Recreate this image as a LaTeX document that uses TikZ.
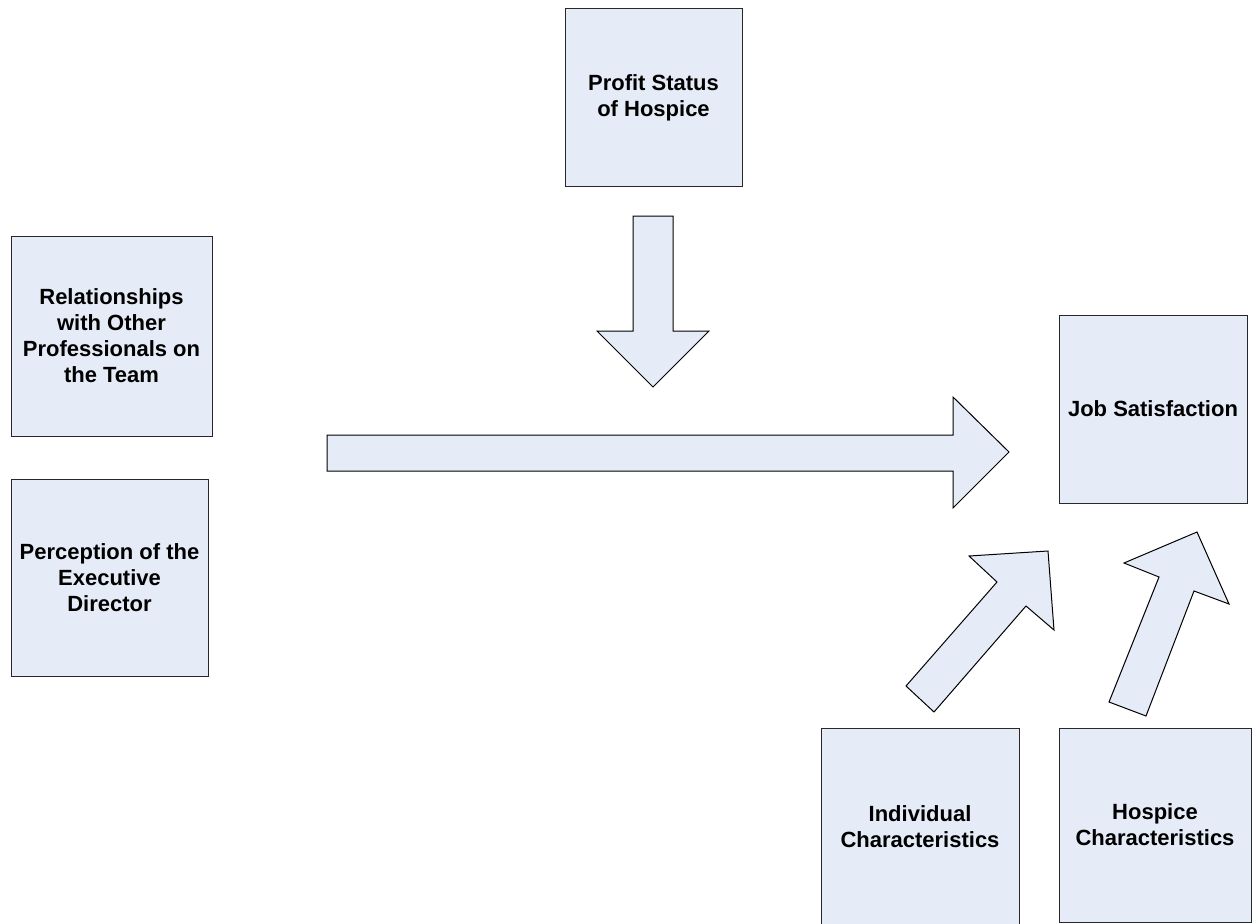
\documentclass[tikz,border=0pt]{standalone}
\usepackage{fontspec}
\setmainfont{Liberation Sans}
\definecolor{boxfill}{RGB}{230,236,247}
\definecolor{boxline}{RGB}{40,40,40}
\begin{document}
\begin{tikzpicture}[x=0.75pt,y=-0.75pt,
  box/.style={draw=boxline,fill=boxfill,line width=0.75pt,rectangle,inner sep=0pt,
    align=center,font=\fontsize{16.5}{19.5}\selectfont\bfseries},
  blockarrow/.style={draw=black,fill=boxfill,line width=0.75pt,line join=miter}]
\useasboundingbox (0,0) rectangle (1257,924);
% boxes
\node[box,minimum width=177*0.75pt,minimum height=177*0.75pt] (profit) at (653.5,97.5) {Profit Status\\of Hospice};
\node[box,minimum width=201*0.75pt,minimum height=200*0.75pt] (rel) at (111.5,336) {Relationships\\with Other\\Professionals on\\the Team};
\node[box,minimum width=197*0.75pt,minimum height=197*0.75pt] (perc) at (109.5,577.5) {Perception of the\\Executive\\Director};
\node[box,minimum width=188*0.75pt,minimum height=188*0.75pt] (job) at (1153,409) {Job Satisfaction};
\node[box,minimum width=198*0.75pt,minimum height=198*0.75pt] (indiv) at (920,827) {Individual\\Characteristics};
\node[box,minimum width=192*0.75pt,minimum height=194*0.75pt] (hosp) at (1155,825) {Hospice\\Characteristics};
% block arrows
\draw[blockarrow] (633,216) -- (673,216) -- (673,331) -- (709,331) -- (653,387) -- (597,331) -- (633,331) -- cycle;
\draw[blockarrow] (327,435) -- (953,435) -- (953,397) -- (1009,452) -- (953,508) -- (953,471) -- (327,471) -- cycle;
\draw[blockarrow] (906,686) -- (997,582) -- (969,556) -- (1048,551) -- (1054,630) -- (1026,606) -- (934,712) -- cycle;
\draw[blockarrow] (1109,702) -- (1159,577) -- (1124,563) -- (1197,532) -- (1229,604) -- (1194,591) -- (1146,716) -- cycle;
\end{tikzpicture}
\end{document}
